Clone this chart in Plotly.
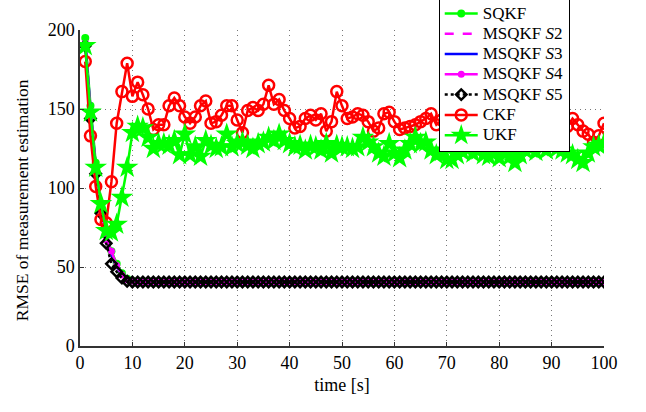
import plotly.graph_objects as go

t = list(range(1, 101))

sqkf = [195, 152, 116, 89, 70, 60, 52, 46, 42.5, 41,
        40.5, 40.5, 40.5, 40.5, 40.5, 40.5, 40.5, 40.5, 40.5, 40.5,
        40.5, 40.5, 40.5, 40.5, 40.5, 40.5, 40.5, 40.5, 40.5, 40.5,
        40.5, 40.5, 40.5, 40.5, 40.5, 40.5, 40.5, 40.5, 40.5, 40.5,
        40.5, 40.5, 40.5, 40.5, 40.5, 40.5, 40.5, 40.5, 40.5, 40.5,
        40.5, 40.5, 40.5, 40.5, 40.5, 40.5, 40.5, 40.5, 40.5, 40.5,
        40.5, 40.5, 40.5, 40.5, 40.5, 40.5, 40.5, 40.5, 40.5, 40.5,
        40.5, 40.5, 40.5, 40.5, 40.5, 40.5, 40.5, 40.5, 40.5, 40.5,
        40.5, 40.5, 40.5, 40.5, 40.5, 40.5, 40.5, 40.5, 40.5, 40.5,
        40.5, 40.5, 40.5, 40.5, 40.5, 40.5, 40.5, 40.5, 40.5, 40.5]

msqkf_s2 = [193, 150, 114, 87, 68, 58, 50, 45, 42, 41,
            40.5, 40.5, 40.5, 40.5, 40.5, 40.5, 40.5, 40.5, 40.5, 40.5,
            40.5, 40.5, 40.5, 40.5, 40.5, 40.5, 40.5, 40.5, 40.5, 40.5,
            40.5, 40.5, 40.5, 40.5, 40.5, 40.5, 40.5, 40.5, 40.5, 40.5,
            40.5, 40.5, 40.5, 40.5, 40.5, 40.5, 40.5, 40.5, 40.5, 40.5,
            40.5, 40.5, 40.5, 40.5, 40.5, 40.5, 40.5, 40.5, 40.5, 40.5,
            40.5, 40.5, 40.5, 40.5, 40.5, 40.5, 40.5, 40.5, 40.5, 40.5,
            40.5, 40.5, 40.5, 40.5, 40.5, 40.5, 40.5, 40.5, 40.5, 40.5,
            40.5, 40.5, 40.5, 40.5, 40.5, 40.5, 40.5, 40.5, 40.5, 40.5,
            40.5, 40.5, 40.5, 40.5, 40.5, 40.5, 40.5, 40.5, 40.5, 40.5]

msqkf_s3 = [193, 150, 114, 87, 68, 58, 50, 45, 42, 41,
            40.5, 40.5, 40.5, 40.5, 40.5, 40.5, 40.5, 40.5, 40.5, 40.5,
            40.5, 40.5, 40.5, 40.5, 40.5, 40.5, 40.5, 40.5, 40.5, 40.5,
            40.5, 40.5, 40.5, 40.5, 40.5, 40.5, 40.5, 40.5, 40.5, 40.5,
            40.5, 40.5, 40.5, 40.5, 40.5, 40.5, 40.5, 40.5, 40.5, 40.5,
            40.5, 40.5, 40.5, 40.5, 40.5, 40.5, 40.5, 40.5, 40.5, 40.5,
            40.5, 40.5, 40.5, 40.5, 40.5, 40.5, 40.5, 40.5, 40.5, 40.5,
            40.5, 40.5, 40.5, 40.5, 40.5, 40.5, 40.5, 40.5, 40.5, 40.5,
            40.5, 40.5, 40.5, 40.5, 40.5, 40.5, 40.5, 40.5, 40.5, 40.5,
            40.5, 40.5, 40.5, 40.5, 40.5, 40.5, 40.5, 40.5, 40.5, 40.5]

msqkf_s4 = [192, 149, 113, 86, 67, 60, 51, 45, 42, 41,
            40.5, 40.5, 40.5, 40.5, 40.5, 40.5, 40.5, 40.5, 40.5, 40.5,
            40.5, 40.5, 40.5, 40.5, 40.5, 40.5, 40.5, 40.5, 40.5, 40.5,
            40.5, 40.5, 40.5, 40.5, 40.5, 40.5, 40.5, 40.5, 40.5, 40.5,
            40.5, 40.5, 40.5, 40.5, 40.5, 40.5, 40.5, 40.5, 40.5, 40.5,
            40.5, 40.5, 40.5, 40.5, 40.5, 40.5, 40.5, 40.5, 40.5, 40.5,
            40.5, 40.5, 40.5, 40.5, 40.5, 40.5, 40.5, 40.5, 40.5, 40.5,
            40.5, 40.5, 40.5, 40.5, 40.5, 40.5, 40.5, 40.5, 40.5, 40.5,
            40.5, 40.5, 40.5, 40.5, 40.5, 40.5, 40.5, 40.5, 40.5, 40.5,
            40.5, 40.5, 40.5, 40.5, 40.5, 40.5, 40.5, 40.5, 40.5, 40.5]

msqkf_s5 = [190, 144, 109, 84, 65, 52, 47, 43, 41, 40.5,
            40.5, 40.5, 40.5, 40.5, 40.5, 40.5, 40.5, 40.5, 40.5, 40.5,
            40.5, 40.5, 40.5, 40.5, 40.5, 40.5, 40.5, 40.5, 40.5, 40.5,
            40.5, 40.5, 40.5, 40.5, 40.5, 40.5, 40.5, 40.5, 40.5, 40.5,
            40.5, 40.5, 40.5, 40.5, 40.5, 40.5, 40.5, 40.5, 40.5, 40.5,
            40.5, 40.5, 40.5, 40.5, 40.5, 40.5, 40.5, 40.5, 40.5, 40.5,
            40.5, 40.5, 40.5, 40.5, 40.5, 40.5, 40.5, 40.5, 40.5, 40.5,
            40.5, 40.5, 40.5, 40.5, 40.5, 40.5, 40.5, 40.5, 40.5, 40.5,
            40.5, 40.5, 40.5, 40.5, 40.5, 40.5, 40.5, 40.5, 40.5, 40.5,
            40.5, 40.5, 40.5, 40.5, 40.5, 40.5, 40.5, 40.5, 40.5, 40.5]

ckf = [180, 133, 101, 80, 78, 104, 141, 161, 179, 158,
       167, 159, 150, 137, 140, 140, 152, 157, 152, 145,
       141, 145, 152, 155, 141, 142, 146, 152, 152, 143,
       135, 149, 151, 149, 153, 165, 153, 156, 149, 144,
       138, 139, 144, 146, 143, 147, 136, 142, 161, 152,
       144, 145, 147, 146, 142, 136, 138, 147, 148, 142,
       137, 138, 139, 140, 142, 144, 147, 140, 143, 146,
       141, 138, 144, 149, 145, 140, 137, 142, 147, 150,
       144, 139, 141, 146, 143, 138, 135, 140, 145, 142,
       137, 133, 139, 144, 140, 136, 134, 129, 133, 141]

ukf = [190, 148, 113, 90, 73, 72, 77, 94, 113, 135,
       139, 138, 132, 125, 128, 128, 127, 130, 121, 134,
       121, 126, 120, 130, 127, 125, 126, 134, 126, 128,
       129, 127, 125, 128, 129, 132, 130, 134, 130, 128,
       126, 127, 124, 127, 126, 124, 128, 122, 127, 126,
       126, 125, 126, 132, 129, 126, 122, 120, 128, 122,
       119, 124, 128, 132, 128, 129, 124, 121, 123, 118,
       118, 121, 123, 125, 122, 124, 121, 120, 122, 119,
       123, 120, 116, 121, 124, 125, 123, 126, 124, 127,
       125, 124, 122, 121, 118, 116, 122, 126, 127, 128]

x_ticks = [0, 10, 20, 30, 40, 50, 60, 70, 80, 90, 100]
y_ticks = [0, 50, 100, 150, 200]

GREEN = "#00ff00"
MAG = "#ff00ff"
FONT = "Liberation Serif"


def lg(txt):
    return "<span style='font-size:17px'>" + txt + "</span>"


fig = go.Figure()
fig.add_trace(go.Scatter(x=t, y=sqkf, name=lg("SQKF"), mode="lines+markers",
                         line=dict(color=GREEN, width=2.5),
                         marker=dict(symbol="circle", size=8, color=GREEN)))
fig.add_trace(go.Scatter(x=t, y=msqkf_s2, name=lg("MSQKF <i>S</i>2"), mode="lines",
                         line=dict(color=MAG, width=2.5, dash="dash")))
fig.add_trace(go.Scatter(x=t, y=msqkf_s3, name=lg("MSQKF <i>S</i>3"), mode="lines",
                         line=dict(color="#0000ff", width=2.5)))
fig.add_trace(go.Scatter(x=t, y=msqkf_s4, name=lg("MSQKF <i>S</i>4"), mode="lines+markers",
                         line=dict(color=MAG, width=2.5),
                         marker=dict(symbol="circle", size=7, color=MAG)))
fig.add_trace(go.Scatter(x=t, y=msqkf_s5, name=lg("MSQKF <i>S</i>5"), mode="lines+markers",
                         line=dict(color="black", width=2.5, dash="dot"),
                         marker=dict(symbol="diamond-open", size=8, color="black",
                                     line=dict(width=2.5, color="black"))))
fig.add_trace(go.Scatter(x=t, y=ckf, name=lg("CKF"), mode="lines+markers",
                         line=dict(color="#ff0000", width=2.5),
                         marker=dict(symbol="circle-open", size=11, color="#ff0000",
                                     line=dict(width=2.5, color="#ff0000"))))
fig.add_trace(go.Scatter(x=t, y=ukf, name=lg("UKF"), mode="lines+markers",
                         line=dict(color=GREEN, width=2.5),
                         marker=dict(symbol="star", size=17, color=GREEN,
                                     line=dict(width=0))))

axis_common = dict(
    showline=True, linecolor="#333333", linewidth=1.5,
    showgrid=True, gridcolor="#777777", griddash="1px,4px", gridwidth=1,
    ticks="inside", ticklen=4, tickcolor="#333333",
    tickfont=dict(family=FONT, size=18, color="black"),
    zeroline=False, mirror=False,
)

fig.update_layout(
    width=646, height=412,
    margin=dict(l=80, r=41.5, t=29.7, b=66.3, autoexpand=False),
    paper_bgcolor="white", plot_bgcolor="white",
    font=dict(family=FONT, size=13.3, color="black"),
    showlegend=True,
    legend=dict(x=0.6846, y=0.613, xanchor="left", yanchor="bottom",
                bgcolor="white", bordercolor="black", borderwidth=1,
                font=dict(family=FONT, size=13.3, color="black"),
                tracegroupgap=0, itemwidth=33),
    xaxis=dict(range=[0, 100], tickvals=x_ticks,
               title=dict(text="time [s]", font=dict(family=FONT, size=18), standoff=6),
               **axis_common),
    yaxis=dict(range=[0, 200], tickvals=y_ticks, **axis_common),
    annotations=[dict(text="RMSE of measurement estimation", xref="paper", yref="paper",
                      x=-0.111, y=0.461, xanchor="center", yanchor="middle",
                      textangle=-90, showarrow=False,
                      font=dict(family=FONT, size=17.5, color="black"))],
)

fig.write_html("out.html",
               config={"displayModeBar": False},
               post_script="document.body.style.margin='0';document.body.style.overflow='hidden';")
